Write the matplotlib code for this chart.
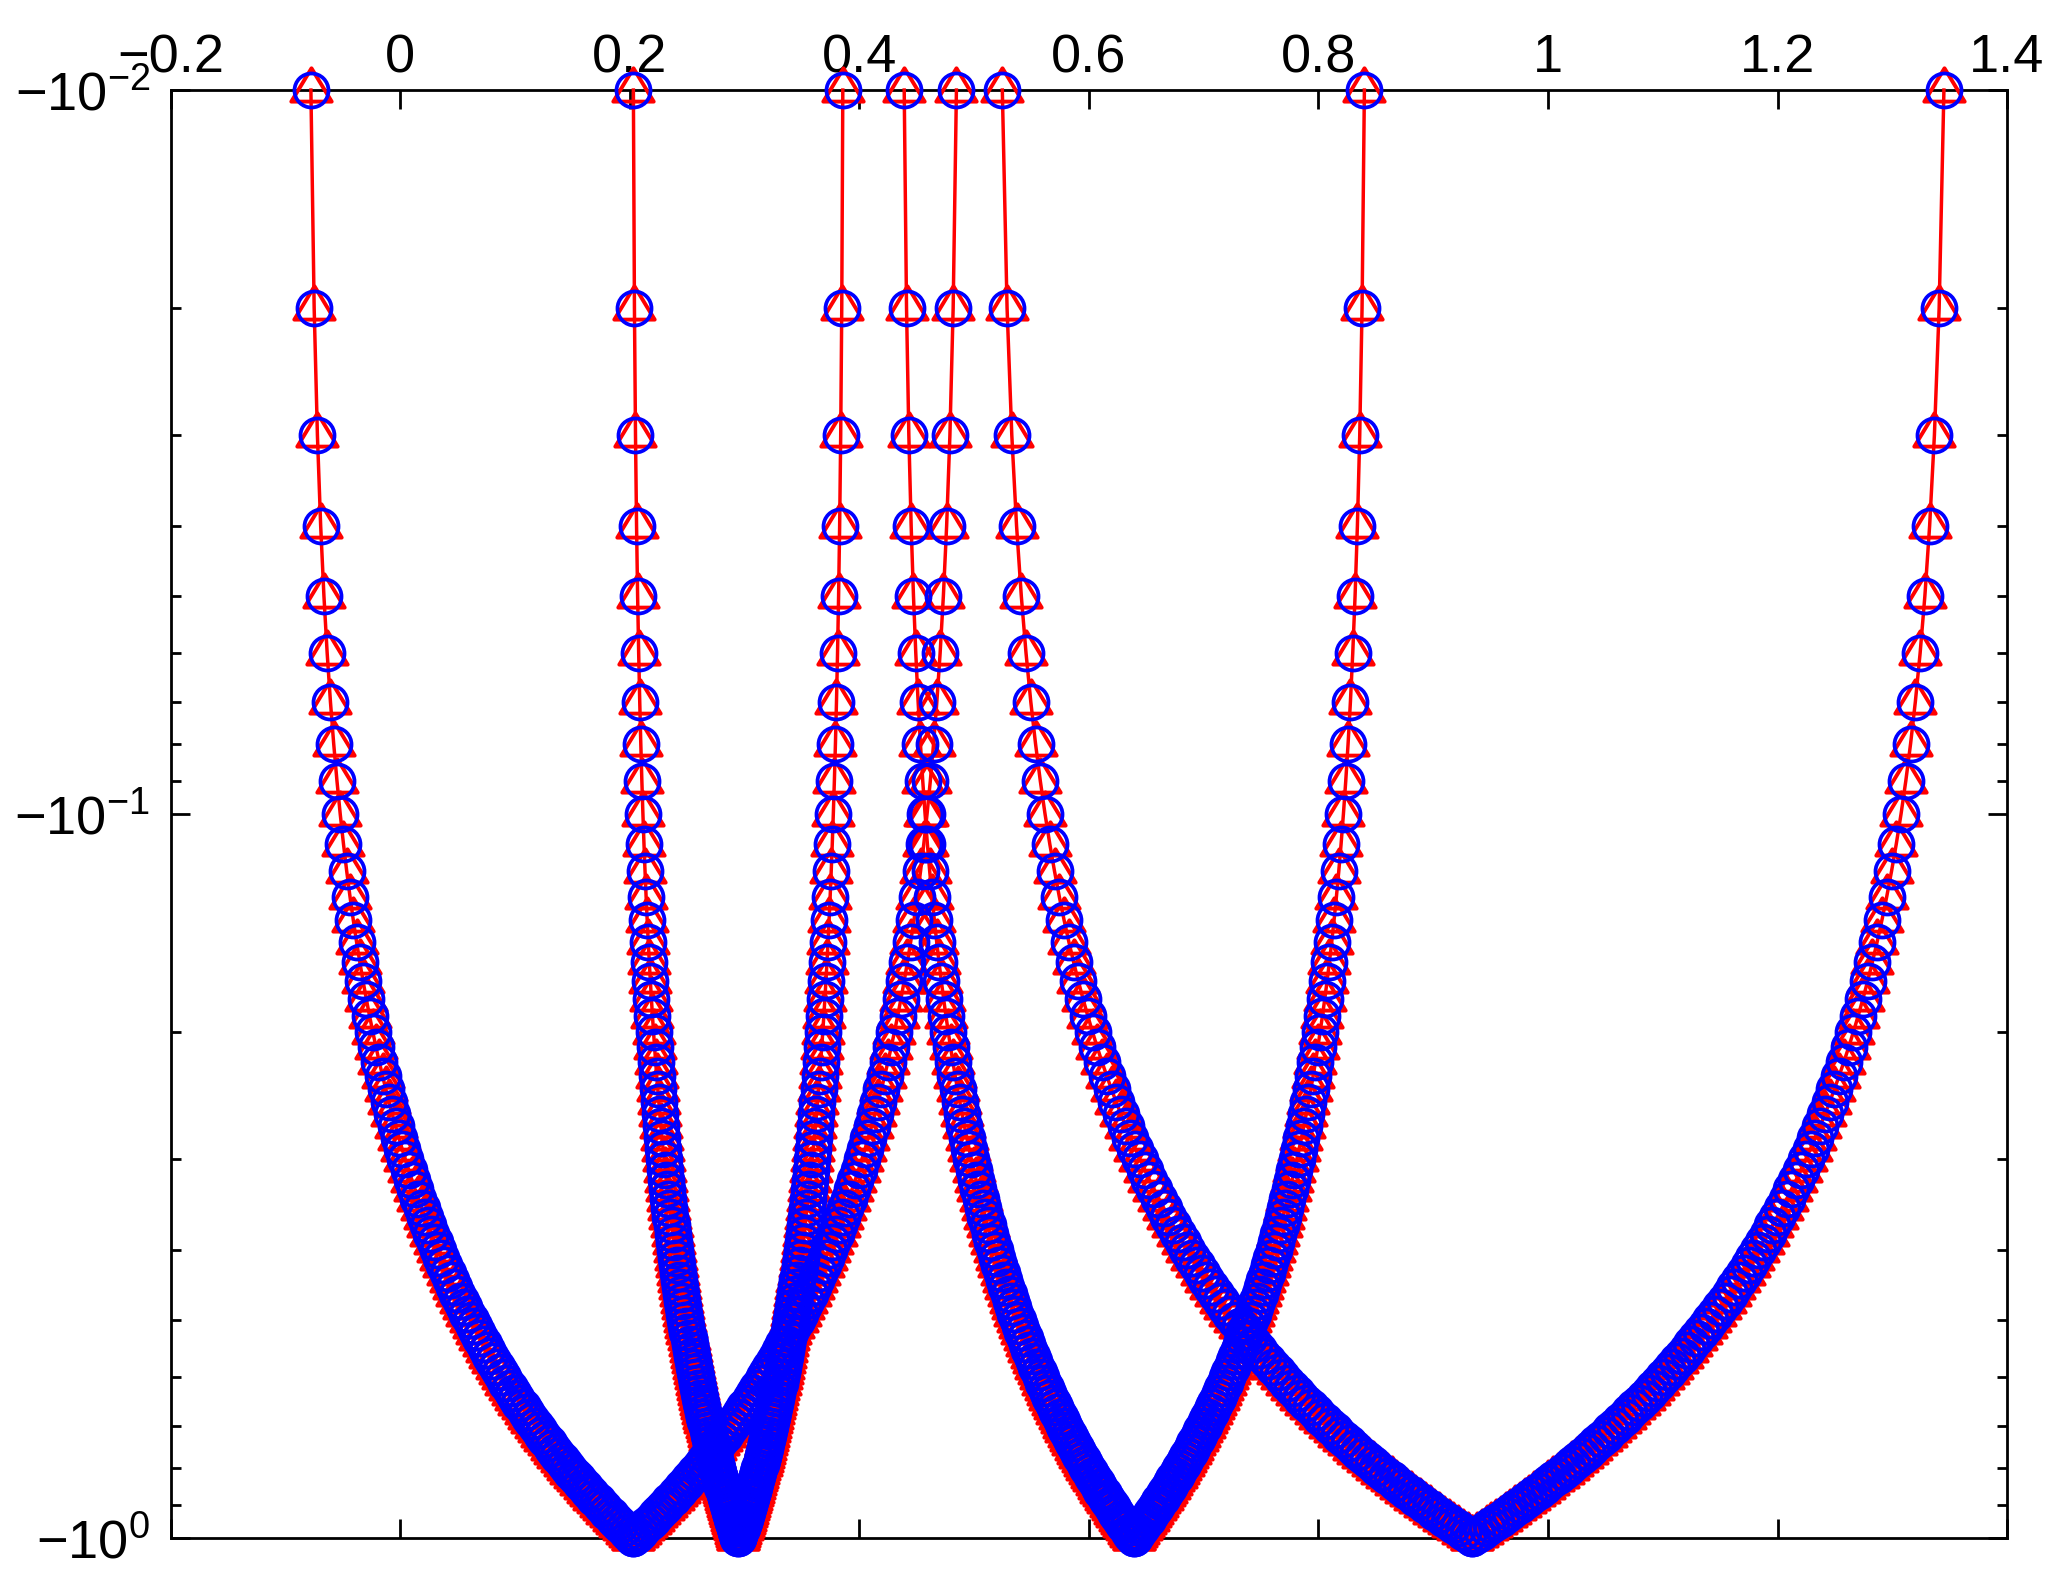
import numpy as np
import matplotlib
matplotlib.use('Agg')
import matplotlib.pyplot as plt
from matplotlib.path import Path
from matplotlib.ticker import FixedLocator, LogLocator, NullFormatter

# ---- data ----
# magnitude levels of the (negative) y values: y = -t
t_levels = [round(0.01 * k, 2) for k in range(1, 101)]
# each path is straight in (x, t): x at t = 0.01 (top) and at t = 1 (bottom)
x_at_top = [-0.078, 0.4845, 0.203, 0.3855, 0.439, 0.840, 0.5245, 1.345]
x_at_bottom = [0.203, 0.203, 0.2945, 0.2945, 0.639, 0.639, 0.934, 0.934]

xtick_values = [-0.2, 0, 0.2, 0.4, 0.6, 0.8, 1.0, 1.2, 1.4]
xtick_labels = ['\u22120.2', '0', '0.2', '0.4', '0.6', '0.8', '1', '1.2', '1.4']
ytick_values = [0.01, 0.1, 1.0]
ytick_labels = [r'$-10^{-2}$', r'$-10^{-1}$', r'$-10^{0}$']

plt.rcParams['font.family'] = ['Liberation Sans', 'DejaVu Sans']
plt.rcParams['mathtext.default'] = 'regular'

fig = plt.figure(figsize=(20.64, 15.91), dpi=100)
ax = fig.add_axes([0.0828, 0.0333, 0.8896, 0.9101])
ax.set_yscale('log')

# MATLAB-like open triangle marker (apex higher than base offset)
tri = Path([(0, 22), (-20, -11), (20, -11), (0, 22)],
           [Path.MOVETO, Path.LINETO, Path.LINETO, Path.CLOSEPOLY])

t_arr = np.array(t_levels)
curves = []
for xs, xe in zip(x_at_top, x_at_bottom):
    x = xs + (xe - xs) * (t_arr - t_arr[0]) / (t_arr[-1] - t_arr[0])
    curves.append(x)

for x in curves:
    ax.plot(x, t_arr, color='red', linewidth=2.5, marker=tri, markersize=32,
            markerfacecolor='none', markeredgecolor='red', markeredgewidth=2.8,
            clip_on=False, zorder=3)
for x in curves:
    ax.plot(x, t_arr, linestyle='none', marker='o', markersize=24.5,
            markerfacecolor='none', markeredgecolor='blue', markeredgewidth=2.7,
            clip_on=False, zorder=4)

ax.set_xlim(-0.2, 1.4)
ax.set_ylim(1.0, 0.01)

ax.xaxis.tick_top()
ax.set_xticks(xtick_values)
ax.set_xticklabels(xtick_labels)
ax.tick_params(axis='x', which='major', top=True, bottom=True, labeltop=True,
               labelbottom=False, direction='in', length=13.5, width=2,
               labelsize=39, pad=5)

ax.yaxis.set_major_locator(FixedLocator(ytick_values))
ax.set_yticklabels(ytick_labels)
ax.yaxis.set_minor_locator(LogLocator(base=10, subs=np.arange(2, 10)))
ax.yaxis.set_minor_formatter(NullFormatter())
ax.tick_params(axis='y', which='major', left=True, right=True, direction='in',
               length=13.5, width=2, labelsize=39, pad=15)
ax.tick_params(axis='y', which='minor', left=True, right=True, direction='in',
               length=7, width=2)

for sp in ax.spines.values():
    sp.set_linewidth(2)
    sp.set_zorder(2.5)

fig.savefig('out.png', dpi=100)
